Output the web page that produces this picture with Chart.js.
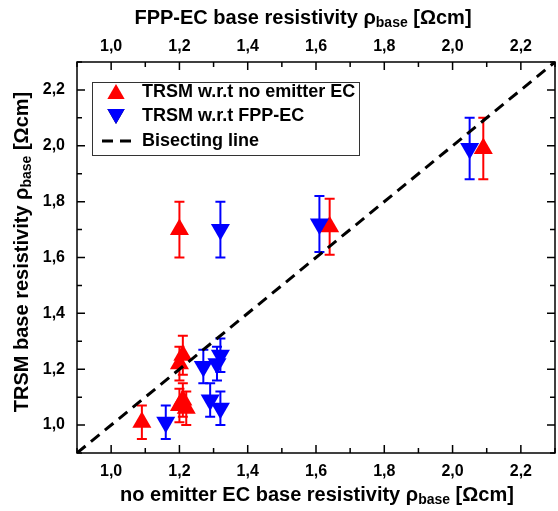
<!DOCTYPE html>
<html>
<head>
<meta charset="utf-8">
<script src="https://cdn.jsdelivr.net/npm/chart.js@4.4.1/dist/chart.umd.min.js"></script>
<style>
  html, body { margin: 0; padding: 0; background: #fff; }
</style>
</head>
<body>
<canvas id="resChart" width="558" height="511"></canvas>
<script>
  // TRSM vs. no emitter EC (red, up triangles)
  var noEmitterX = [1.09, 1.20, 1.20, 1.21, 1.20, 1.21, 1.22, 1.64, 2.09];
  var trsmRedY   = [1.01, 1.70, 1.22, 1.25, 1.07, 1.09, 1.06, 1.71, 1.99];
  var errRed     = [0.06, 0.10, 0.06, 0.07, 0.06, 0.06, 0.06, 0.10, 0.11];

  // TRSM vs. FPP-EC (blue, down triangles)
  var fppX      = [1.16, 1.32, 1.27, 1.31, 1.32, 1.29, 1.32, 1.61, 2.05];
  var trsmBlueY = [1.01, 1.70, 1.21, 1.22, 1.25, 1.09, 1.06, 1.72, 1.99];
  var errBlue   = [0.06, 0.10, 0.06, 0.06, 0.06, 0.06, 0.06, 0.10, 0.11];

  var bisect = [0.9, 2.3];
  var tickValues = [1.0, 1.2, 1.4, 1.6, 1.8, 2.0, 2.2];
  var axisMin = 0.9, axisMax = 2.3;

  var FONT = '"Liberation Sans", Arial, sans-serif';

  function toPoints(xs, ys) {
    return xs.map(function (x, i) { return { x: x, y: ys[i] }; });
  }

  function commaLabel(v) {
    return Number(v).toFixed(1).replace('.', ',');
  }

  function setTicks(scale) {
    scale.ticks = tickValues.map(function (v) { return { value: v }; });
  }

  // vertical error bars, drawn before the markers
  var errorBarPlugin = {
    id: 'errorBars',
    beforeDatasetsDraw: function (chart) {
      var ctx = chart.ctx;
      chart.data.datasets.forEach(function (ds, di) {
        if (!ds.errors) return;
        var meta = chart.getDatasetMeta(di);
        var yScale = chart.scales[meta.yAxisID];
        ctx.save();
        ctx.strokeStyle = ds.backgroundColor;
        ctx.lineWidth = 2;
        meta.data.forEach(function (pt, i) {
          var v = ds.data[i].y;
          var top = yScale.getPixelForValue(v + ds.errors[i]);
          var bot = yScale.getPixelForValue(v - ds.errors[i]);
          ctx.beginPath();
          ctx.moveTo(pt.x, top); ctx.lineTo(pt.x, bot);
          ctx.moveTo(pt.x - 5, top); ctx.lineTo(pt.x + 5, top);
          ctx.moveTo(pt.x - 5, bot); ctx.lineTo(pt.x + 5, bot);
          ctx.stroke();
        });
        ctx.restore();
      });
    }
  };

  // frame, inward ticks, titles with subscripts, legend
  var decorPlugin = {
    id: 'decor',
    afterDraw: function (chart) {
      var ctx = chart.ctx;
      var a = chart.chartArea;
      var xs = chart.scales.x, ys = chart.scales.y;
      ctx.save();
      ctx.strokeStyle = '#000';
      ctx.lineWidth = 1.5;
      ctx.strokeRect(a.left, a.top, a.right - a.left, a.bottom - a.top);

      ctx.beginPath();
      for (var k = 0; k <= 14; k++) {
        var v = axisMin + k * 0.1;
        var major = (k % 2 === 1);
        var len = major ? 8 : 5;
        var px = xs.getPixelForValue(v);
        var py = ys.getPixelForValue(v);
        ctx.moveTo(px, a.bottom); ctx.lineTo(px, a.bottom - len);
        ctx.moveTo(px, a.top); ctx.lineTo(px, a.top + len);
        ctx.moveTo(a.left, py); ctx.lineTo(a.left + len, py);
        ctx.moveTo(a.right, py); ctx.lineTo(a.right - len, py);
      }
      ctx.stroke();

      drawSubTitle(ctx, 'no emitter EC base resistivity \u03c1', 'base', ' [\u03a9cm]', 317, 495, 0);
      drawSubTitle(ctx, 'FPP-EC base resistivity \u03c1', 'base', ' [\u03a9cm]', 303, 18, 0);
      drawSubTitle(ctx, 'TRSM base resistivity \u03c1', 'base', ' [\u03a9cm]', 22, 252, -Math.PI / 2);

      // legend
      ctx.lineWidth = 1;
      ctx.strokeStyle = '#333';
      ctx.fillStyle = '#fff';
      ctx.fillRect(92, 82, 267, 73);
      ctx.strokeRect(92.5, 82.5, 267, 73);
      var rows = [92, 116, 141];
      var dss = chart.data.datasets;
      var order = [1, 2, 0];
      ctx.font = 'bold 18px ' + FONT;
      ctx.textBaseline = 'middle';
      ctx.textAlign = 'left';
      order.forEach(function (di, r) {
        var ds = dss[di];
        var cy = rows[r];
        if (ds.showLine) {
          ctx.save();
          ctx.strokeStyle = ds.borderColor;
          ctx.lineWidth = 3;
          ctx.setLineDash([11, 7]);
          ctx.beginPath();
          ctx.moveTo(102, cy); ctx.lineTo(133, cy);
          ctx.stroke();
          ctx.restore();
        } else {
          Chart.helpers.drawPoint(ctx, {
            pointStyle: 'triangle', radius: 10, rotation: ds.rotation || 0, borderWidth: 0
          }, 116, cy + (ds.rotation ? -2 : 2));
          ctx.fillStyle = ds.backgroundColor;
          ctx.fill();
        }
        ctx.fillStyle = '#000';
        ctx.fillText(ds.label, 142, cy);
      });
      ctx.restore();
    }
  };

  function drawSubTitle(ctx, main, sub, tail, cx, cy, rot) {
    var big = 'bold 20px ' + FONT, small = 'bold 14px ' + FONT;
    ctx.save();
    ctx.translate(cx, cy);
    ctx.rotate(rot);
    ctx.fillStyle = '#000';
    ctx.textBaseline = 'middle';
    ctx.textAlign = 'left';
    ctx.font = big; var w1 = ctx.measureText(main).width;
    var w3 = ctx.measureText(tail).width;
    ctx.font = small; var w2 = ctx.measureText(sub).width;
    var x = -(w1 + w2 + w3) / 2;
    ctx.font = big; ctx.fillText(main, x, 0);
    ctx.font = small; ctx.fillText(sub, x + w1, 5);
    ctx.font = big; ctx.fillText(tail, x + w1 + w2, 0);
    ctx.restore();
  }

  function noSidePad(s) {
    s.paddingLeft = 0;
    s.paddingRight = 0;
  }

  var tickFont = { family: FONT, size: 16, weight: 'bold' };

  var resConfig = {
    type: 'scatter',
    data: {
      datasets: [{
        label: 'Bisecting line',
        data: toPoints(bisect, bisect),
        showLine: true,
        borderColor: '#000',
        borderWidth: 3,
        borderDash: [11, 7],
        pointRadius: 0,
        order: 0
      }, {
        label: 'TRSM w.r.t no emitter EC',
        data: toPoints(noEmitterX, trsmRedY),
        errors: errRed,
        backgroundColor: '#ff0000',
        borderColor: '#ff0000',
        pointStyle: 'triangle',
        pointRadius: 11,
        pointBorderWidth: 0,
        order: 2
      }, {
        label: 'TRSM w.r.t FPP-EC',
        data: toPoints(fppX, trsmBlueY),
        errors: errBlue,
        xAxisID: 'x2',
        backgroundColor: '#0000ff',
        borderColor: '#0000ff',
        pointStyle: 'triangle',
        rotation: 180,
        pointRotation: 180,
        pointRadius: 11,
        pointBorderWidth: 0,
        order: 1
      }]
    },
    options: {
      responsive: false,
      animation: false,
      layout: { autoPadding: false, padding: { right: 3 } },
      plugins: { legend: { display: false }, tooltip: { enabled: false } },
      scales: {
        x: {
          type: 'linear', position: 'bottom', min: axisMin, max: axisMax,
          afterBuildTicks: setTicks,
          afterFit: function (s) { s.height = 58; noSidePad(s); },
          grid: { display: false, drawTicks: false },
          border: { display: false },
          ticks: { color: '#000', font: tickFont, padding: 9, maxRotation: 0, callback: commaLabel }
        },
        x2: {
          type: 'linear', position: 'top', min: axisMin, max: axisMax,
          afterBuildTicks: setTicks,
          afterFit: function (s) { s.height = 62; noSidePad(s); },
          grid: { display: false, drawTicks: false },
          border: { display: false },
          ticks: { color: '#000', font: tickFont, padding: 6, maxRotation: 0, callback: commaLabel }
        },
        y: {
          type: 'linear', min: axisMin, max: axisMax,
          afterBuildTicks: setTicks,
          afterFit: function (s) { s.width = 77; s.paddingTop = 0; s.paddingBottom = 0; },
          grid: { display: false, drawTicks: false },
          border: { display: false },
          ticks: { color: '#000', font: tickFont, padding: 12, callback: commaLabel }
        }
      }
    },
    plugins: [errorBarPlugin, decorPlugin]
  };

  var resCtx = document.getElementById('resChart').getContext('2d');
  window.resChart = new Chart(resCtx, resConfig);
</script>
</body>
</html>
